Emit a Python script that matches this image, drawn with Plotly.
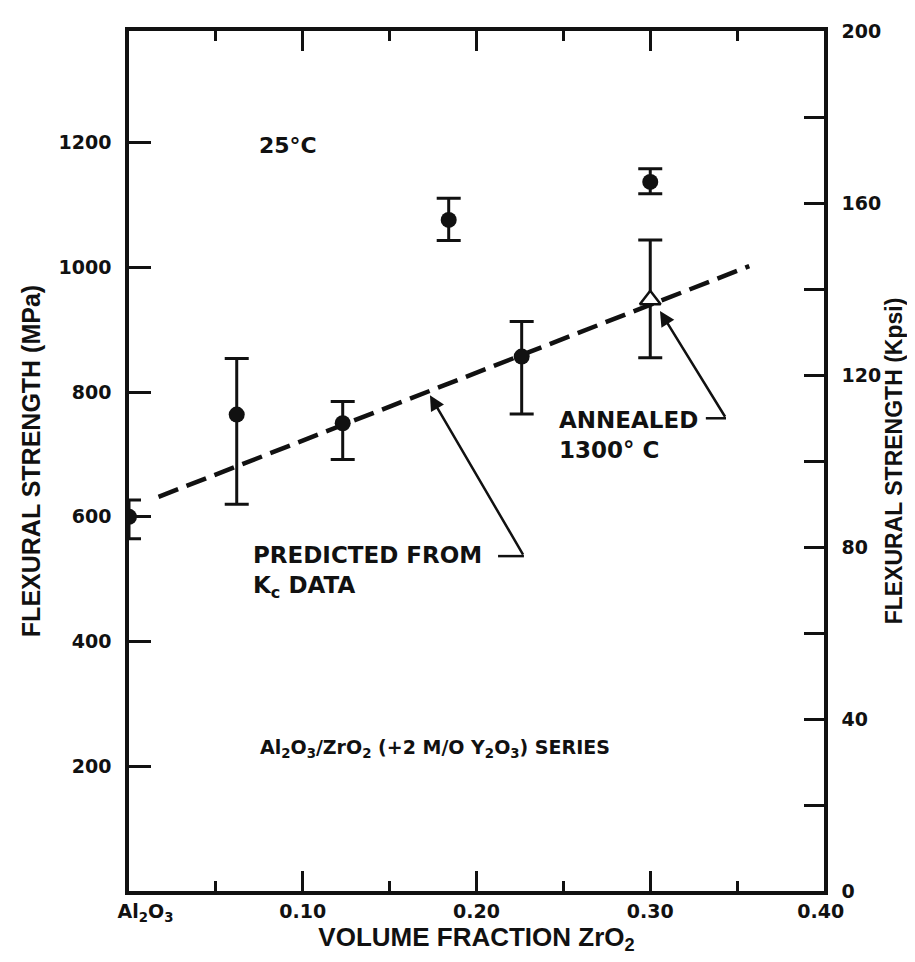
import plotly.graph_objects as go

# ---- data ----
vol_frac = [0.0, 0.062, 0.123, 0.184, 0.226, 0.300]
strength = [600, 764, 750, 1076, 857, 1137]
strength_hi = [627, 854, 785, 1111, 913, 1158]
strength_lo = [565, 620, 692, 1043, 765, 1118]

annealed_x = [0.300]
annealed_y = [948]
annealed_hi = [1044]
annealed_lo = [855]

pred_x = [0.017, 0.357]
pred_y = [632, 1002]

x_tickvals = [0.0, 0.1, 0.2, 0.3, 0.4]
x_ticktext = ["\u00a0\u00a0\u00a0\u00a0\u00a0Al<sub>2</sub>O<sub>3</sub>", "0.10", "0.20", "0.30",
              "0.40\u00a0"]
mpa_ticks = [200, 400, 600, 800, 1000, 1200]
ksi_ticks = [0, 40, 80, 120, 160, 200]

Y_MAX_MPA = 1379.0
Y_MAX_KSI = 200.0

BLACK = "#111111"
FONT = "DejaVu Sans"
TFONT = "Liberation Sans"

fig = go.Figure()

fig.add_trace(go.Scatter(
    x=pred_x, y=pred_y, mode="lines",
    line=dict(color=BLACK, width=4.5, dash="21px,9px"),
    hoverinfo="skip", showlegend=False))

fig.add_trace(go.Scatter(
    x=vol_frac, y=strength, mode="markers",
    marker=dict(symbol="circle", size=16, color=BLACK),
    error_y=dict(type="data", symmetric=False,
                 array=[h - v for h, v in zip(strength_hi, strength)],
                 arrayminus=[v - l for l, v in zip(strength_lo, strength)],
                 color=BLACK, thickness=3, width=12),
    showlegend=False))

fig.add_trace(go.Scatter(
    x=annealed_x, y=annealed_y, mode="markers",
    marker=dict(symbol="triangle-up", size=18, color="white",
                line=dict(color=BLACK, width=2.5)),
    error_y=dict(type="data", symmetric=False,
                 array=[h - v for h, v in zip(annealed_hi, annealed_y)],
                 arrayminus=[v - l for l, v in zip(annealed_lo, annealed_y)],
                 color=BLACK, thickness=3, width=12),
    showlegend=False))

# invisible trace to activate right axis
fig.add_trace(go.Scatter(x=[None], y=[None], yaxis="y2", showlegend=False))

tickfont = dict(family=FONT, size=19, color=BLACK)
titlefont = dict(family=TFONT, size=25, color=BLACK)

fig.update_layout(
    width=915, height=962,
    margin=dict(l=121, r=99, t=23, b=79),
    paper_bgcolor="white", plot_bgcolor="white",
    xaxis=dict(range=[0, 0.4], tickvals=x_tickvals,
               ticktext=[f"<b>{t}</b>" for t in x_ticktext],
               ticks="inside", ticklen=20, tickwidth=3, tickcolor=BLACK,
               minor=dict(dtick=0.05, tick0=0, ticks="inside", ticklen=10,
                          tickwidth=3, tickcolor=BLACK, showgrid=False),
               showline=True, linewidth=3.5, linecolor=BLACK, mirror="ticks",
               showgrid=False, zeroline=False, tickfont=tickfont,
               title=dict(text="<b>VOLUME FRACTION ZrO<sub>2</sub></b>",
                          font=dict(family=TFONT, size=26, color=BLACK),
                          standoff=4)),
    yaxis=dict(range=[0, Y_MAX_MPA], tickvals=mpa_ticks,
               ticktext=[f"<b>{v}</b>" for v in mpa_ticks],
               ticks="inside", ticklen=22, tickwidth=3, tickcolor=BLACK,
               showline=True, linewidth=3.5, linecolor=BLACK,
               showgrid=False, zeroline=False, tickfont=tickfont,
               ticklabelstandoff=10,
               title=dict(text="<b>FLEXURAL STRENGTH (MPa)</b>",
                          font=titlefont, standoff=12)),
    yaxis2=dict(range=[0, Y_MAX_KSI], overlaying="y", side="right",
                tickvals=ksi_ticks, ticktext=[f"<b>{v}</b>" for v in ksi_ticks],
                ticks="inside", ticklen=20, tickwidth=3, tickcolor=BLACK,
                minor=dict(dtick=20, tick0=0, ticks="inside", ticklen=20,
                           tickwidth=3, tickcolor=BLACK, showgrid=False),
                showline=True, linewidth=3.5, linecolor=BLACK,
                showgrid=False, zeroline=False, tickfont=tickfont,
                ticklabelstandoff=10,
                title=dict(text="<b>FLEXURAL STRENGTH (Kpsi)</b>",
                           font=dict(family=TFONT, size=23, color=BLACK),
                           standoff=2)),
)

def note(x, y, text, size, anchor="left"):
    fig.add_annotation(x=x, y=y, xref="x", yref="y", text=text, showarrow=False,
                       xanchor=anchor, yanchor="middle", align="left",
                       font=dict(family=FONT, size=size, color=BLACK))

note(0.0915, 1196, "<b>25°C</b>", 22, anchor="center")
note(0.070, 512, "<b>PREDICTED FROM<br>K<sub>c</sub> DATA</b>", 23)
note(0.2463, 731, "<b>ANNEALED<br>1300° C</b>", 23)
note(0.0742, 229, "<b>Al<sub>2</sub>O<sub>3</sub>/ZrO<sub>2</sub> (+2 M/O Y<sub>2</sub>O<sub>3</sub>) SERIES</b>", 19)

def arrow(tip, tail, lead_start):
    fig.add_annotation(x=tip[0], y=tip[1], ax=tail[0], ay=tail[1],
                       xref="x", yref="y", axref="x", ayref="y", text="",
                       showarrow=True, arrowhead=2, arrowsize=1.2,
                       arrowwidth=2.5, arrowcolor=BLACK)
    fig.add_shape(type="line", xref="x", yref="y",
                  x0=lead_start, y0=tail[1], x1=tail[0], y1=tail[1],
                  line=dict(color=BLACK, width=2.5))

arrow((0.1732, 795), (0.2273, 537), 0.2124)
arrow((0.3056, 930), (0.3436, 758), 0.332)

fig.write_html("out.html")
